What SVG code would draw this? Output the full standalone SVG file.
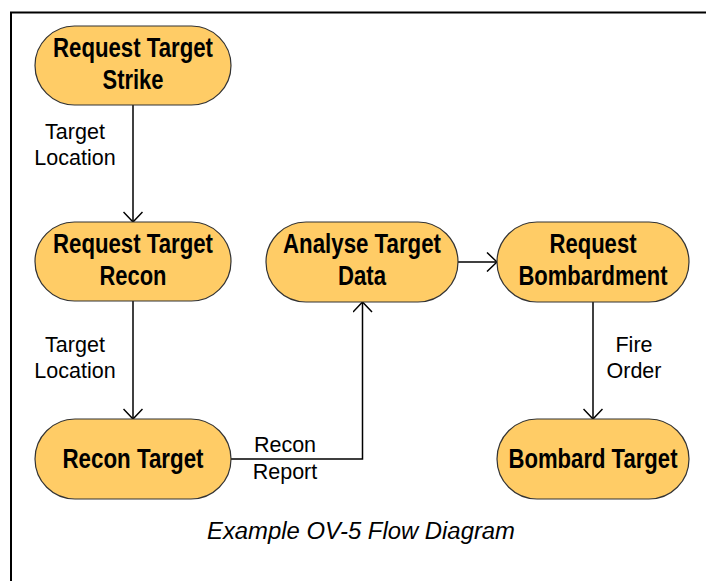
<svg xmlns="http://www.w3.org/2000/svg" width="706" height="581" viewBox="0 0 706 581">
<style>
.node rect{fill:#FFCC66;stroke:#333333;stroke-width:1.2}
.nt{font-family:"Liberation Sans Narrow","Liberation Sans",Arial,sans-serif;font-weight:bold;font-size:27px;fill:#000;text-anchor:middle}
.lbl{font-family:"Liberation Sans",Arial,sans-serif;font-size:21.5px;fill:#000;text-anchor:middle}
.cap{font-family:"Liberation Sans",Arial,sans-serif;font-style:italic;font-size:23px;fill:#000;text-anchor:middle}
.conn{fill:none;stroke:#000;stroke-width:1.5}
</style>
<defs>
<marker id="arr" viewBox="0 0 12 20" refX="11" refY="10" markerWidth="12" markerHeight="20" markerUnits="userSpaceOnUse" orient="auto">
<path d="M1,0.5 L11,10 L1,19.5" fill="none" stroke="#000" stroke-width="1.5"/>
</marker>
</defs>
<rect width="706" height="581" fill="#fff"/>
<path d="M11,590 V12.5 H715" fill="none" stroke="#000" stroke-width="2"/>
<g id="connectors">
<line class="conn" x1="133" y1="105" x2="133" y2="222" marker-end="url(#arr)"/>
<line class="conn" x1="133" y1="301" x2="133" y2="419" marker-end="url(#arr)"/>
<polyline class="conn" points="231,459 362.5,459 362.5,302" marker-end="url(#arr)"/>
<line class="conn" x1="458" y1="262" x2="497" y2="262" marker-end="url(#arr)"/>
<line class="conn" x1="593" y1="302" x2="593" y2="419" marker-end="url(#arr)"/>
</g>
<g id="labels">
<text class="lbl" x="75" y="139">Target</text>
<text class="lbl" x="75" y="165">Location</text>
<text class="lbl" x="75" y="352">Target</text>
<text class="lbl" x="75" y="378">Location</text>
<text class="lbl" x="285" y="452">Recon</text>
<text class="lbl" x="285" y="479">Report</text>
<text class="lbl" x="634" y="352">Fire</text>
<text class="lbl" x="634" y="378">Order</text>
</g>
<g id="node-request-target-strike" class="node">
<rect x="35" y="26" width="196" height="79" rx="39.5"/>
<text class="nt" x="133" y="57" textLength="160" lengthAdjust="spacingAndGlyphs">Request Target</text>
<text class="nt" x="133" y="89" textLength="61" lengthAdjust="spacingAndGlyphs">Strike</text>
</g>
<g id="node-request-target-recon" class="node">
<rect x="35" y="222" width="196" height="79" rx="39.5"/>
<text class="nt" x="133" y="253" textLength="160" lengthAdjust="spacingAndGlyphs">Request Target</text>
<text class="nt" x="133" y="285" textLength="67" lengthAdjust="spacingAndGlyphs">Recon</text>
</g>
<g id="node-recon-target" class="node">
<rect x="35" y="419" width="196" height="80" rx="40"/>
<text class="nt" x="133" y="468" textLength="141" lengthAdjust="spacingAndGlyphs">Recon Target</text>
</g>
<g id="node-analyse-target-data" class="node">
<rect x="266" y="222" width="192" height="80" rx="40"/>
<text class="nt" x="362" y="253" textLength="158" lengthAdjust="spacingAndGlyphs">Analyse Target</text>
<text class="nt" x="362" y="285" textLength="48" lengthAdjust="spacingAndGlyphs">Data</text>
</g>
<g id="node-request-bombardment" class="node">
<rect x="497" y="222" width="192" height="80" rx="40"/>
<text class="nt" x="593" y="253" textLength="87" lengthAdjust="spacingAndGlyphs">Request</text>
<text class="nt" x="593" y="285" textLength="149" lengthAdjust="spacingAndGlyphs">Bombardment</text>
</g>
<g id="node-bombard-target" class="node">
<rect x="497" y="419" width="192" height="80" rx="40"/>
<text class="nt" x="593" y="468" textLength="169" lengthAdjust="spacingAndGlyphs">Bombard Target</text>
</g>
<text class="cap" x="361" y="539" textLength="308" lengthAdjust="spacingAndGlyphs">Example OV-5 Flow Diagram</text>
</svg>
